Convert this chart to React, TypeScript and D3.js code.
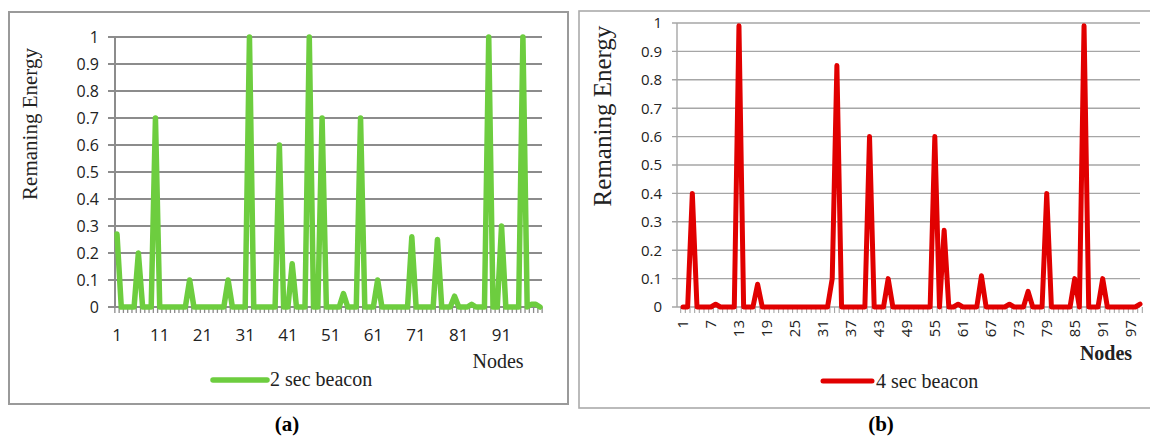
import React from "react";
import * as d3 from "d3";

// ---- data ----
const energy2s: number[] = [
  0.27, 0, 0, 0, 0, 0.2, 0, 0, 0, 0.7,
  0, 0, 0, 0, 0, 0, 0, 0.1, 0, 0,
  0, 0, 0, 0, 0, 0, 0.1, 0, 0, 0,
  0, 1, 0, 0, 0, 0, 0, 0, 0.6, 0,
  0, 0.16, 0, 0, 0, 1, 0, 0, 0.7, 0,
  0, 0, 0, 0.05, 0, 0, 0, 0.7, 0, 0,
  0, 0.1, 0, 0, 0, 0, 0, 0, 0, 0.26,
  0, 0, 0, 0, 0, 0.25, 0, 0, 0, 0.04,
  0, 0, 0, 0.01, 0, 0, 0, 1, 0, 0,
  0.3, 0, 0, 0, 0, 1, 0, 0.01, 0.01, 0,
];

const energy4s: number[] = [
  0, 0, 0.4, 0, 0, 0, 0, 0.01, 0, 0,
  0, 0, 0.99, 0, 0, 0, 0.08, 0, 0, 0,
  0, 0, 0, 0, 0, 0, 0, 0, 0, 0,
  0, 0, 0.1, 0.85, 0, 0, 0, 0, 0, 0,
  0.6, 0, 0, 0, 0.1, 0, 0, 0, 0, 0,
  0, 0, 0, 0, 0.6, 0, 0.27, 0, 0, 0.01,
  0, 0, 0, 0, 0.11, 0, 0, 0, 0, 0,
  0.01, 0, 0, 0, 0.055, 0, 0, 0, 0.4, 0,
  0, 0, 0, 0, 0.1, 0, 0.99, 0, 0, 0,
  0.1, 0, 0, 0, 0, 0, 0, 0, 0.01,
];

const nodes2s: number[] = energy2s.map((_, i) => i + 1);
const nodes4s: number[] = energy4s.map((_, i) => i + 1);

const yTicks: number[] = [0, 0.1, 0.2, 0.3, 0.4, 0.5, 0.6, 0.7, 0.8, 0.9, 1];
const xLabels2s: number[] = [1, 11, 21, 31, 41, 51, 61, 71, 81, 91];
const xLabels4s: number[] = [1, 7, 13, 19, 25, 31, 37, 43, 49, 55, 61, 67, 73, 79, 85, 91, 97];

const GREEN = "#6dcd3f";
const RED = "#e10000";
const SERIF = "'Liberation Serif', 'Times New Roman', serif";
const SANS = "'Open Sans', 'Noto Sans', sans-serif";

export default function App() {
  // ---- panel (a) ----
  const xA = d3.scalePoint<number>().domain(nodes2s).range([117, 540]);
  const yA = d3.scaleLinear().domain([0, 1]).range([307, 37]);
  const stepA = xA.step();
  const plotA = { left: 115, right: 542 };
  const lineA = d3
    .line<number>()
    .x((_, i) => xA(nodes2s[i]) as number)
    .y((d) => yA(d));
  const boundsA = nodes2s.map((n) => (xA(n) as number) - stepA / 2).concat([(xA(nodes2s[nodes2s.length - 1]) as number) + stepA / 2]);

  // ---- panel (b) ----
  const xB = d3.scalePoint<number>().domain(nodes4s).range([683, 1140]);
  const yB = d3.scaleLinear().domain([0, 1]).range([307, 23]);
  const stepB = xB.step();
  const plotB = { left: 677, right: 1140 };
  const lineB = d3
    .line<number>()
    .x((_, i) => xB(nodes4s[i]) as number)
    .y((d) => yB(d));
  const boundsB = nodes4s.map((n) => (xB(n) as number) - stepB / 2).concat([(xB(nodes4s[nodes4s.length - 1]) as number) + stepB / 2]);

  return (
    <svg
      width={1150}
      height={440}
      style={{ position: "absolute", left: 0, top: 0, display: "block", background: "#fff" }}
    >
      <rect x={0} y={0} width={1150} height={440} fill="#fff" />

      {/* ===== Panel (a) ===== */}
      <rect x={9} y={12} width={559} height={392} fill="none" stroke="#9a9a9a" strokeWidth={2} />
      {yTicks.map((t) => (
        <line key={"ga" + t} x1={plotA.left - 7} x2={plotA.right} y1={yA(t)} y2={yA(t)} stroke="#8c8c8c" strokeWidth={2} />
      ))}
      <line x1={plotA.left} x2={plotA.left} y1={yA(1)} y2={yA(0)} stroke="#8c8c8c" strokeWidth={2} />
      {boundsA.map((b, i) => (
        <line key={"ta" + i} x1={b} x2={b} y1={yA(0)} y2={yA(0) + 6} stroke="#8c8c8c" strokeWidth={1.3} />
      ))}
      {yTicks.map((t) => (
        <text key={"la" + t} x={99} y={yA(t)} dy="0.36em" textAnchor="end" fontFamily={SANS} fontSize={16} fill="#222">
          {String(t)}
        </text>
      ))}
      {xLabels2s.map((n) => (
        <text key={"xa" + n} x={xA(n)} y={341} textAnchor="middle" fontFamily={SANS} fontSize={17} fill="#222">
          {n}
        </text>
      ))}
      <path d={lineA(energy2s) || ""} fill="none" stroke={GREEN} strokeWidth={5.5} strokeLinejoin="round" strokeLinecap="round" />
      <text transform="translate(37,124) rotate(-90)" textAnchor="middle" fontFamily={SERIF} fontSize={21} fill="#222">
        Remaning Energy
      </text>
      <text x={498} y={368} textAnchor="middle" fontFamily={SERIF} fontSize={20} fill="#222">
        Nodes
      </text>
      <line x1={213} x2={267} y1={380} y2={380} stroke={GREEN} strokeWidth={5.5} strokeLinecap="round" />
      <text x={270} y={386} fontFamily={SERIF} fontSize={20} fill="#222">
        2 sec beacon
      </text>
      <text x={287} y={431} textAnchor="middle" fontFamily={SERIF} fontSize={21} fontWeight="bold" fill="#000">
        (a)
      </text>

      {/* ===== Panel (b) ===== */}
      <rect x={579} y={11} width={580} height={397} fill="none" stroke="#ababab" strokeWidth={1.6} />
      {yTicks.map((t) => (
        <line key={"gb" + t} x1={plotB.left - 5} x2={plotB.right} y1={yB(t)} y2={yB(t)} stroke="#a6a6a6" strokeWidth={1.4} />
      ))}
      <line x1={plotB.left} x2={plotB.left} y1={yB(1)} y2={yB(0)} stroke="#a6a6a6" strokeWidth={1.4} />
      {boundsB.map((b, i) => (
        <line key={"tb" + i} x1={b} x2={b} y1={yB(0)} y2={yB(0) + 6} stroke="#a6a6a6" strokeWidth={1.1} />
      ))}
      {yTicks.map((t) => (
        <text key={"lb" + t} x={662} y={yB(t)} dy="0.36em" textAnchor="end" fontFamily={SANS} fontSize={15} fill="#222">
          {String(t)}
        </text>
      ))}
      {xLabels4s.map((n) => (
        <text
          key={"xb" + n}
          transform={`translate(${xB(n)},320) rotate(-90)`}
          dy="0.36em"
          textAnchor="end"
          fontFamily={SANS}
          fontSize={15}
          fill="#222"
        >
          {n}
        </text>
      ))}
      <path d={lineB(energy4s) || ""} fill="none" stroke={RED} strokeWidth={5} strokeLinejoin="round" strokeLinecap="round" />
      <text transform="translate(611,116) rotate(-90)" textAnchor="middle" fontFamily={SERIF} fontSize={25} fill="#222">
        Remaning Energy
      </text>
      <text x={1106} y={360} textAnchor="middle" fontFamily={SERIF} fontSize={20} fontWeight="bold" fill="#222">
        Nodes
      </text>
      <line x1={823} x2={872} y1={381} y2={381} stroke={RED} strokeWidth={5} strokeLinecap="round" />
      <text x={876} y={388} fontFamily={SERIF} fontSize={20} fill="#222">
        4 sec beacon
      </text>
      <text x={881} y={431} textAnchor="middle" fontFamily={SERIF} fontSize={21} fontWeight="bold" fill="#000">
        (b)
      </text>
    </svg>
  );
}
